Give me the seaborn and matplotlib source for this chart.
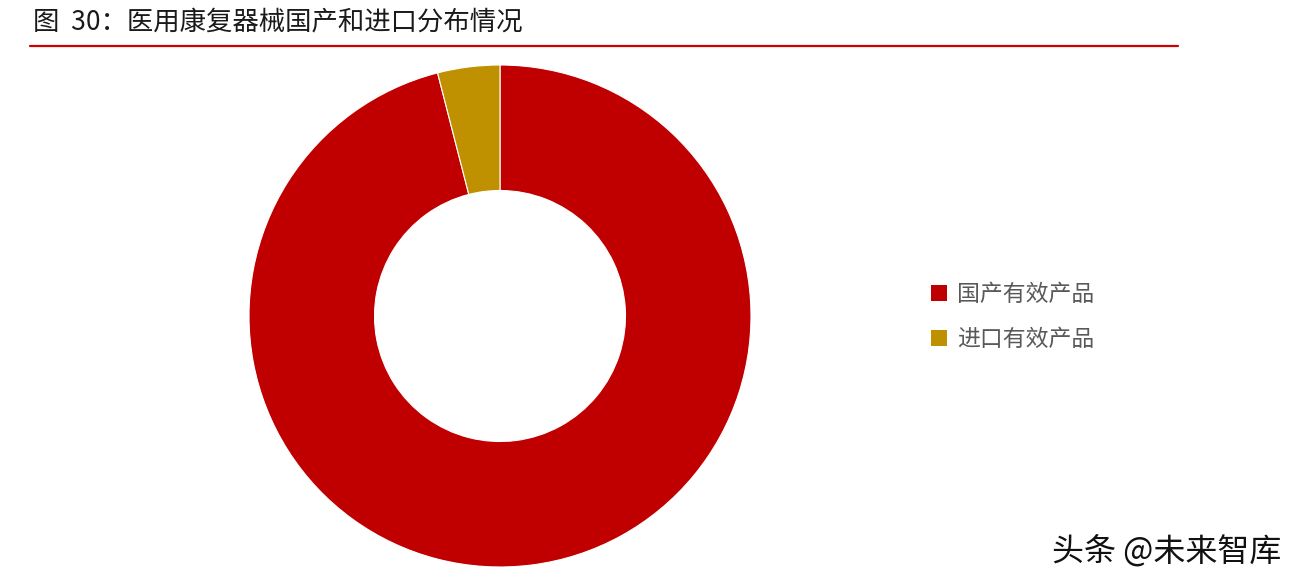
import matplotlib
matplotlib.use("Agg")
import matplotlib.pyplot as plt
from matplotlib.patches import Patch
import seaborn as sns

# data
labels = ["国产有效产品", "进口有效产品"]
shares = [96, 4]
colors = ["#C00000", "#BF9000"]

title = "图  30：医用康复器械国产和进口分布情况"
source = "头条 @未来智库"

sns.set_theme(style='white')
plt.rcParams['font.family'] = ['Noto Sans CJK SC', 'DejaVu Sans']

W, H = 1299, 588
fig = plt.figure(figsize=(W / 100, H / 100), dpi=100)
fig.patch.set_facecolor('white')

# donut: centre (500, 316), outer radius ~251 px
ax = fig.add_axes([249 / W, (H - 567) / H, 502 / W, 502 / H])
ax.pie(shares, colors=colors, startangle=90, counterclock=False,
       radius=1.0, wedgeprops=dict(width=0.5, edgecolor='white', linewidth=0.8))
ax.set_aspect('equal')
ax.set_xlim(-1, 1)
ax.set_ylim(-1, 1)
ax.axis('off')

# title and red rule
fig.text(33 / W, 1 - 22 / H, title, fontsize=19, color='#1a1a1a',
         va='center', ha='left')
fig.add_artist(plt.Line2D([30 / W, 1178 / W], [1 - 46 / H, 1 - 46 / H],
                          color='#D00000', linewidth=1.6))

# legend
handles = [Patch(facecolor=c, edgecolor='none') for c in colors]
fig.legend(handles, labels, loc='center left',
           bbox_to_anchor=(910 / W, 1 - 317 / H), frameon=False,
           fontsize=16.5, labelcolor='#595959', handlelength=0.7,
           handleheight=0.7, handletextpad=0.45, labelspacing=1.0)

# watermark
fig.text(1281 / W, 1 - 551 / H, source, fontsize=23, color='#111111',
         ha='right', va='center')

fig.savefig('out.png', dpi=100)
